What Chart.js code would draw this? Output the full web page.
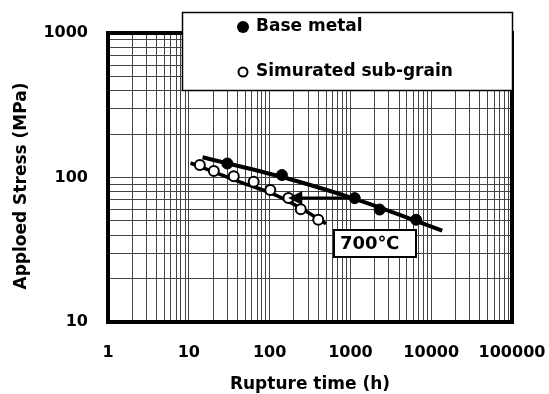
<!DOCTYPE html>
<html>
<head>
<meta charset="utf-8">
<script src="https://cdn.jsdelivr.net/npm/chart.js@4/dist/chart.umd.min.js"></script>
<style>
  html, body { margin: 0; padding: 0; background: #fff; }
</style>
</head>
<body>
<canvas id="c" width="549" height="394"></canvas>
<script>
// Creep rupture data at 700°C: rupture time (h) vs applied stress (MPa)
const baseTime = [30, 142, 1130, 2300, 6500];
const baseStress = [125, 104, 72, 60, 51];
const subTime = [13.7, 20.4, 36, 63.5, 102, 171, 243, 400];
const subStress = [122, 111, 102, 93.5, 82, 72, 60.4, 51];

// Hand-drawn trend curves through each series
const baseCurveTime = [14.8, 143, 1133, 13700];
const baseCurveStress = [138, 100.8, 71.1, 42.9];
const subCurveTime = [10.5, 43.4, 117, 238, 498];
const subCurveStress = [126, 93, 75.8, 61.7, 47.9];

// Axis labels
const xTickLabels = ['1', '10', '100', '1000', '10000', '100000'];
const yTickLabels = ['10', '100', '1000'];
const seriesNames = ['Base metal', 'Simurated sub-grain'];
const tempLabel = '700\u2103';

// Life-reduction arrow: from the base-metal point to the sub-grain curve
const shiftFrom = [1130, 72];
const shiftTo = [170, 72];

const FONT = "'DejaVu Sans', sans-serif";

// Gridline positions: every 1..9 multiple within each decade
function decadeTicks(labels) {
  const out = [];
  const vals = labels.map(Number);
  for (let i = 0; i < vals.length - 1; i++) {
    for (let k = 1; k <= 9; k++) out.push(vals[i] * k);
  }
  out.push(vals[vals.length - 1]);
  return out;
}
const xTicks = decadeTicks(xTickLabels);
const yTicks = decadeTicks(yTickLabels);

const zip = (xs, ys) => xs.map((x, i) => ({ x: x, y: ys[i] }));

const overlay = {
  id: 'overlay',
  beforeDatasetsDraw(chart) {
    const { ctx, chartArea: a } = chart;
    ctx.save();
    ctx.strokeStyle = '#000';
    ctx.lineWidth = 4;
    ctx.strokeRect(a.left, a.top, a.right - a.left, a.bottom - a.top);
    ctx.restore();
  },
  afterDraw(chart) {
    const { ctx, scales } = chart;
    const xs = scales.x, ys = scales.y;
    ctx.save();

    // Arrow showing the shorter rupture life
    const x1 = xs.getPixelForValue(shiftFrom[0]);
    const y1 = ys.getPixelForValue(shiftFrom[1]);
    const x2 = xs.getPixelForValue(shiftTo[0]);
    const y2 = ys.getPixelForValue(shiftTo[1]);
    ctx.strokeStyle = '#000';
    ctx.fillStyle = '#000';
    ctx.lineWidth = 3;
    ctx.beginPath();
    ctx.moveTo(x1, y1);
    ctx.lineTo(x2 + 12, y2);
    ctx.stroke();
    ctx.beginPath();
    ctx.moveTo(x2, y2);
    ctx.lineTo(x2 + 14, y2 - 7);
    ctx.lineTo(x2 + 14, y2 + 7);
    ctx.closePath();
    ctx.fill();

    // Legend box
    ctx.fillStyle = '#fff';
    ctx.fillRect(182, 12, 331, 79);
    ctx.lineWidth = 1.5;
    ctx.strokeRect(182.5, 12.5, 330, 78);

    ctx.fillStyle = '#000';
    ctx.beginPath();
    ctx.arc(243, 27, 6, 0, Math.PI * 2);
    ctx.fill();
    ctx.lineWidth = 2;
    ctx.beginPath();
    ctx.arc(243, 72, 4.5, 0, Math.PI * 2);
    ctx.fillStyle = '#fff';
    ctx.fill();
    ctx.stroke();

    ctx.fillStyle = '#000';
    ctx.font = 'bold 17px ' + FONT;
    ctx.textAlign = 'left';
    ctx.textBaseline = 'middle';
    ctx.fillText(seriesNames[0], 256, 27);
    ctx.fillText(seriesNames[1], 256, 72);

    // Temperature tag
    ctx.fillStyle = '#fff';
    ctx.fillRect(334, 230, 82, 27);
    ctx.lineWidth = 2;
    ctx.strokeRect(334, 230, 82, 27);
    ctx.fillStyle = '#000';
    ctx.font = 'bold 18px ' + FONT;
    ctx.fillText(tempLabel, 340, 244.5);

    // Vertical axis title
    ctx.translate(22, 186);
    ctx.rotate(-Math.PI / 2);
    ctx.textAlign = 'center';
    ctx.font = 'bold 17px ' + FONT;
    ctx.fillText('Apploed Stress (MPa)', 0, 0);
    ctx.restore();
  }
};

new Chart(document.getElementById('c'), {
  type: 'scatter',
  data: {
    datasets: [
      {
        label: seriesNames[0],
        data: zip(baseTime, baseStress),
        pointRadius: 5.5,
        pointBackgroundColor: '#000',
        pointBorderColor: '#000',
        pointBorderWidth: 1,
        order: 1
      },
      {
        label: seriesNames[1],
        data: zip(subTime, subStress),
        pointRadius: 5,
        pointBackgroundColor: '#fff',
        pointBorderColor: '#000',
        pointBorderWidth: 2,
        order: 1
      },
      {
        label: 'base trend',
        data: zip(baseCurveTime, baseCurveStress),
        showLine: true,
        pointRadius: 0,
        borderColor: '#000',
        borderWidth: 4,
        cubicInterpolationMode: 'monotone',
        order: 2
      },
      {
        label: 'sub-grain trend',
        data: zip(subCurveTime, subCurveStress),
        showLine: true,
        pointRadius: 0,
        borderColor: '#000',
        borderWidth: 3.5,
        cubicInterpolationMode: 'monotone',
        order: 2
      }
    ]
  },
  options: {
    responsive: false,
    animation: false,
    devicePixelRatio: 1,
    layout: { padding: { left: 0, top: 33, right: 37, bottom: 0 } },
    plugins: { legend: { display: false }, tooltip: { enabled: false } },
    scales: {
      x: {
        type: 'logarithmic',
        min: 1,
        max: 100000,
        afterBuildTicks: s => { s.ticks = xTicks.map(v => ({ value: v })); },
        afterFit: s => { s.height = 72; s.paddingLeft = 0; s.paddingRight = 0; },
        grid: { color: '#444', lineWidth: 1, drawTicks: false },
        border: { display: false },
        ticks: {
          autoSkip: false,
          maxRotation: 0,
          padding: 21,
          color: '#000',
          font: { family: FONT, size: 16, weight: 'bold' },
          callback: v => (xTickLabels.includes(String(v)) ? String(v) : '')
        },
        title: {
          display: true,
          text: 'Rupture time (h)',
          color: '#000',
          padding: { top: 0, bottom: -1 },
          font: { family: FONT, size: 17, weight: 'bold' }
        }
      },
      y: {
        type: 'logarithmic',
        min: 10,
        max: 1000,
        afterBuildTicks: s => { s.ticks = yTicks.map(v => ({ value: v })); },
        afterFit: s => { s.width = 108; s.paddingTop = 0; s.paddingBottom = 0; },
        grid: { color: '#444', lineWidth: 1, drawTicks: false },
        border: { display: false },
        ticks: {
          autoSkip: false,
          padding: 20,
          color: '#000',
          font: { family: FONT, size: 16, weight: 'bold' },
          callback: v => (yTickLabels.includes(String(v)) ? String(v) : '')
        }
      }
    }
  },
  plugins: [overlay]
});
</script>
</body>
</html>
